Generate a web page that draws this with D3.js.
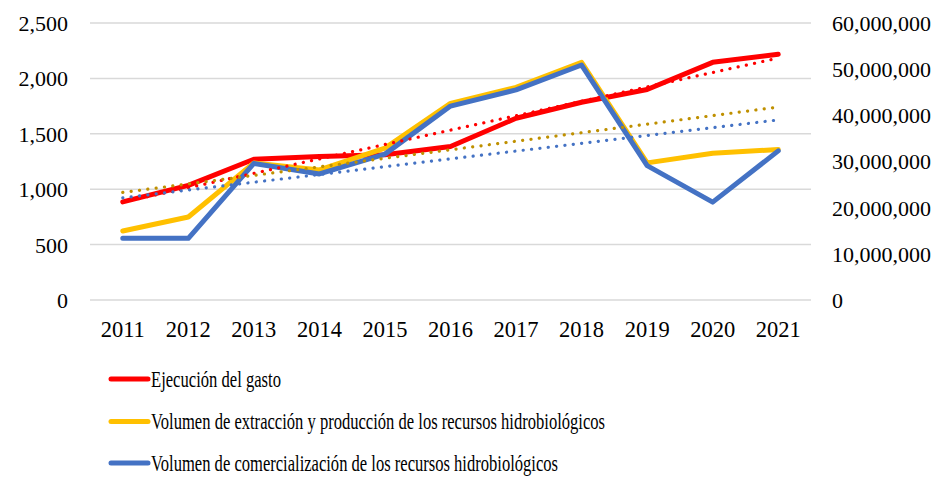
<!DOCTYPE html>
<html><head><meta charset="utf-8">
<script src="https://cdn.jsdelivr.net/npm/d3@7"></script>
<style>body{margin:0;background:#fff}svg{display:block}</style>
</head><body>
<svg id="c" width="948" height="478"></svg>
<script>
const years = ["2011","2012","2013","2014","2015","2016","2017","2018","2019","2020","2021"];
const gasto = [885,1035,1270,1295,1310,1385,1640,1785,1900,2145,2217];
const extraccion = [14.94e6,17.98e6,29.7e6,28.16e6,32.9e6,42.6e6,46.07e6,51.5e6,29.7e6,31.8e6,32.6e6];
const comercializacion = [13.36e6,13.36e6,29.6e6,27.3e6,31.6e6,42.0e6,45.5e6,50.9e6,29.1e6,21.2e6,32.3e6];
const leftTicks = [0,500,1000,1500,2000,2500];
const rightTicks = [0,10e6,20e6,30e6,40e6,50e6,60e6];
const legendLabels = ["Ejecución del gasto","Volumen de extracción y producción de los recursos hidrobiológicos","Volumen de comercialización de los recursos hidrobiológicos"];

const FONT = "'Liberation Serif'";
const svg = d3.select("#c");
const L = 90, R = 811, T = 23, B = 300;
const x = d3.scaleBand().domain(years).range([L, R]).padding(0);
const cx = d => x(d) + x.bandwidth()/2;
const yL = d3.scaleLinear().domain([0,2500]).range([B,T]);
const yR = d3.scaleLinear().domain([0,60e6]).range([B,T]);
const fmt = d3.format(",");

function styleText(sel, size){
  sel.attr("font-family", null).style("font-family", FONT).style("font-size", size+"px").attr("fill","#000");
  return sel;
}

// gridlines
svg.append("g").selectAll("line").data(leftTicks).join("line")
  .attr("x1",L).attr("x2",R).attr("y1",d=>yL(d)).attr("y2",d=>yL(d))
  .attr("stroke","#d9d9d9").attr("stroke-width",1.5);

// left axis
const gl = svg.append("g").attr("transform",`translate(${L-22},0)`)
  .call(d3.axisLeft(yL).tickValues(leftTicks).tickFormat(fmt).tickSize(0).tickPadding(0));
gl.select(".domain").remove();
gl.attr("font-family", null).style("font-family", FONT);
styleText(gl.selectAll("text").attr("dy","0.34em"), 22);

// right axis
const gr = svg.append("g").attr("transform",`translate(${R+21},0)`)
  .call(d3.axisRight(yR).tickValues(rightTicks).tickFormat(fmt).tickSize(0).tickPadding(0));
gr.select(".domain").remove();
gr.attr("font-family", null).style("font-family", FONT);
styleText(gr.selectAll("text").attr("dy","0.34em"), 22);

// x axis
const gx = svg.append("g").attr("transform",`translate(0,${B+15.5})`)
  .call(d3.axisBottom(x).tickSize(0).tickPadding(0));
gx.select(".domain").remove();
gx.attr("font-family", null).style("font-family", FONT);
styleText(gx.selectAll("text").attr("dy","0.95em"), 22.5);

function trend(vals){
  const n = vals.length, mx = (n-1)/2, my = d3.mean(vals);
  let num=0, den=0;
  vals.forEach((v,i)=>{num+=(i-mx)*(v-my); den+=(i-mx)*(i-mx);});
  const b = num/den, a = my - b*mx;
  return [[0,a],[n-1,a+b*(n-1)]];
}

const series = [
  {vals:gasto, y:yL, color:"#ff0000", tcolor:"#ff0000"},
  {vals:extraccion, y:yR, color:"#ffc000", tcolor:"#bf9000"},
  {vals:comercializacion, y:yR, color:"#4472c4", tcolor:"#4472c4"}
];

series.forEach(s=>{
  const line = d3.line().x((d,i)=>cx(years[i])).y(d=>s.y(d));
  svg.append("path").attr("d",line(s.vals)).attr("fill","none")
    .attr("stroke",s.color).attr("stroke-width",5).attr("stroke-linejoin","round").attr("stroke-linecap","round");
});
series.forEach(s=>{
  const t = trend(s.vals);
  svg.append("line")
    .attr("x1",cx(years[t[0][0]])).attr("y1",s.y(t[0][1]))
    .attr("x2",cx(years[t[1][0]])).attr("y2",s.y(t[1][1]))
    .attr("stroke",s.tcolor).attr("stroke-width",3.2).attr("stroke-linecap","round")
    .attr("stroke-dasharray","0.1 8.3");
});

// legend
const lg = svg.append("g");
const ly = [379, 421.5, 463];
const lw = [130, 454, 407];
legendLabels.forEach((lab,i)=>{
  lg.append("line").attr("x1",111).attr("x2",148).attr("y1",ly[i]).attr("y2",ly[i])
    .attr("stroke",series[i].color).attr("stroke-width",5).attr("stroke-linecap","round");
  styleText(lg.append("text").attr("x",151).attr("y",ly[i]).attr("dy","0.34em")
    .attr("textLength",lw[i]).attr("lengthAdjust","spacingAndGlyphs").text(lab), 23);
});
</script>
</body></html>
